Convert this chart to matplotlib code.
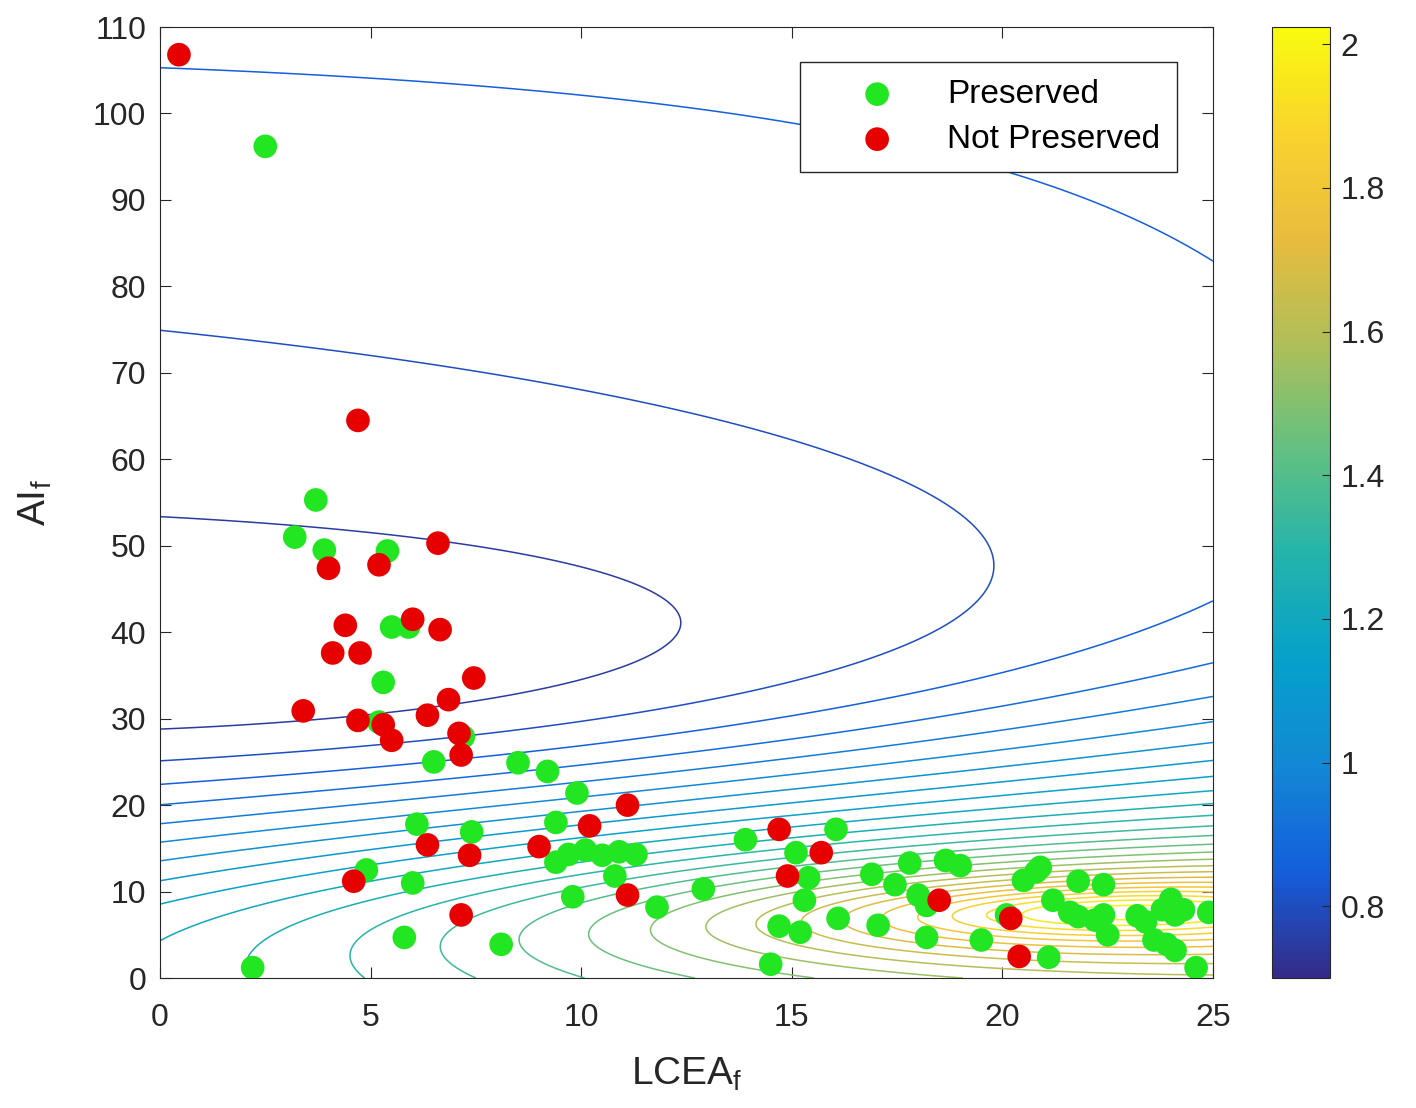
import numpy as np
import matplotlib
matplotlib.use('Agg')
import matplotlib.pyplot as plt
from matplotlib.colors import LinearSegmentedColormap, Normalize
from matplotlib.cm import ScalarMappable

plt.rcParams['font.family'] = ['Liberation Sans', 'DejaVu Sans']

# Preserved samples (LCEA_f, AI_f)
pres_x = [2.5, 3.7, 3.2, 3.9, 5.4, 5.5, 5.9, 5.3, 5.2, 7.2, 6.5, 8.5, 9.2, 9.9, 9.4, 6.1, 7.4,
          9.7, 10.1, 10.5, 10.9, 11.3, 9.4, 10.8, 4.9, 6.0, 9.8, 11.8, 5.8, 8.1, 2.2, 12.9,
          13.9, 15.1, 15.4, 15.3, 16.05, 14.7, 15.2, 14.5, 16.1, 16.9, 17.45, 17.8, 17.05, 18.0,
          18.2, 18.2, 18.65, 19.0, 19.5, 20.1, 20.5, 20.8, 20.9, 21.1, 21.2, 21.6, 21.8, 21.8,
          22.2, 22.4, 22.5, 22.4, 23.2, 23.4, 23.8, 24.0, 24.1, 24.3, 23.6, 23.9, 24.1, 24.6, 24.9]
pres_y = [96.2, 55.3, 51.0, 49.5, 49.4, 40.6, 40.6, 34.2, 29.6, 27.9, 25.0, 24.9, 23.9, 21.4, 18.0, 17.8, 16.9,
          14.3, 14.8, 14.2, 14.6, 14.3, 13.4, 11.8, 12.5, 11.0, 9.4, 8.2, 4.7, 3.9, 1.2, 10.3,
          16.0, 14.5, 11.6, 9.0, 17.2, 6.0, 5.3, 1.6, 6.9, 12.0, 10.8, 13.3, 6.1, 9.6,
          8.4, 4.7, 13.6, 13.0, 4.4, 7.3, 11.3, 12.3, 12.8, 2.4, 9.0, 7.6, 7.1, 11.2,
          6.7, 10.8, 5.0, 7.3, 7.2, 6.5, 7.9, 9.1, 7.3, 7.9, 4.4, 3.9, 3.2, 1.2, 7.6]

# Not preserved samples
notp_x = [0.45, 4.7, 4.0, 5.2, 6.6, 6.0, 4.4, 4.1, 4.75, 6.65, 3.4, 4.7, 5.3, 5.5, 6.35, 6.85,
          7.45, 7.1, 7.15, 11.1, 10.2, 6.35, 7.35, 9.0, 4.6, 7.15, 11.1,
          14.7, 15.7, 14.9, 18.5, 20.2, 20.4]
notp_y = [106.8, 64.5, 47.4, 47.8, 50.3, 41.5, 40.8, 37.6, 37.6, 40.3, 30.9, 29.8, 29.3, 27.5, 30.4, 32.2,
          34.7, 28.3, 25.8, 20.0, 17.6, 15.4, 14.2, 15.2, 11.2, 7.3, 9.6,
          17.2, 14.5, 11.8, 9.0, 6.9, 2.5]

# surface coefficients
base_coef = [67.4247, 0.00508263, -0.00171394, 0.089689, -0.0970443]   # c, x, y, y^2, xy
peak_center = [22.6619, 7.67739]
peak_width = [3.91890, 2.199437]
peak_rho, peak_pow, peak_amp = -0.135688, 0.085283, 2.63689
dip_center = [6.48146, 29.982]
dip_width = [16.72208, 13.75566]
dip_rho, dip_pow, dip_amp = -0.281937, 0.00216177, 68.3803

levels = [round(0.75 + 0.05 * i, 2) for i in range(26)]
cticks = [0.8, 1, 1.2, 1.4, 1.6, 1.8, 2]
clim = (0.70, 2.024)


def kernel(x, y, center, width, rho, pw):
    u = (x - center[0]) / width[0]
    v = (y - center[1]) / width[1]
    return (1 + u * u + v * v + 2 * rho * u * v) ** (-pw)


def surface(x, y):
    c, bx, by, byy, bxy = base_coef
    z = c + bx * x + by * y + byy * (y / 100) ** 2 + bxy * (x / 25) * (y / 100)
    z = z + peak_amp * kernel(x, y, peak_center, peak_width, peak_rho, peak_pow)
    z = z - dip_amp * kernel(x, y, dip_center, dip_width, dip_rho, dip_pow)
    return z


# approx. of MATLAB parula
parula = LinearSegmentedColormap.from_list('parula', [
    (0.2081, 0.1663, 0.5292), (0.0795, 0.3694, 0.8625), (0.0740, 0.5316, 0.8363),
    (0.0227, 0.6282, 0.7936), (0.1387, 0.7032, 0.6696), (0.3835, 0.7550, 0.5080),
    (0.6840, 0.7475, 0.3486), (0.9107, 0.7361, 0.2421), (0.9786, 0.8280, 0.1794),
    (0.9763, 0.9831, 0.0538)])
norm = Normalize(vmin=clim[0], vmax=clim[1])

fig = plt.figure(figsize=(14.16, 11.08), dpi=100)
ax = fig.add_axes([0.113, 0.1173, 0.7436, 0.8583])
cax = fig.add_axes([0.898, 0.1173, 0.041, 0.8583])

X, Y = np.meshgrid(np.linspace(0, 25, 500), np.linspace(0, 110, 800))
ax.contour(X, Y, surface(X, Y), levels=levels, cmap=parula, norm=norm, linewidths=1.1)

ax.scatter(pres_x, pres_y, s=290, color='#22e622', edgecolors='none', label='Preserved', zorder=3)
ax.scatter(notp_x, notp_y, s=290, color='#e60000', edgecolors='none', label='Not Preserved', zorder=3)

ax.set_xlim(0, 25)
ax.set_ylim(0, 110)
ax.set_xticks(range(0, 26, 5))
ax.set_yticks(range(0, 111, 10))
ax.tick_params(direction='in', top=True, right=True, length=8, labelsize=23, colors='#262626')
ax.tick_params(axis='x', pad=18)
ax.tick_params(axis='y', pad=10)
for sp in ax.spines.values():
    sp.set_color('#262626')
ax.set_xlabel('LCEA$_\\mathregular{f}$', fontsize=28, color='#262626', labelpad=16)
ax.set_ylabel('AI$_\\mathregular{f}$', fontsize=28, color='#262626', labelpad=28)
ax.legend(loc='upper right', bbox_to_anchor=(0.9658, 0.963), borderaxespad=0, fontsize=24,
          fancybox=False, edgecolor='#262626', framealpha=1, handlelength=3.6, handletextpad=0.3,
          borderpad=0.5, labelspacing=0.42)

cb = fig.colorbar(ScalarMappable(norm=norm, cmap=parula), cax=cax, ticks=cticks)
cb.ax.set_yticklabels([f'{t:g}' for t in cticks])
cb.ax.tick_params(direction='in', length=6, labelsize=23, colors='#262626', pad=8)
cb.outline.set_edgecolor('#262626')

fig.savefig('out.png', dpi=100)
